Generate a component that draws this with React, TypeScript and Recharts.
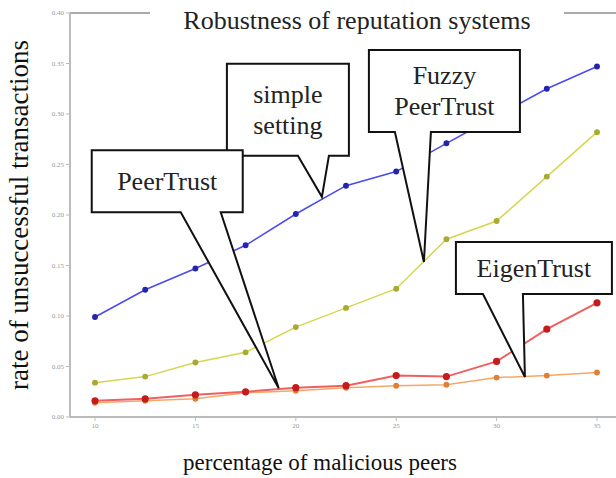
import { LineChart, Line, XAxis, YAxis, ReferenceLine, ReferenceDot } from 'recharts';

const maliciousPct = [10, 12.5, 15, 17.5, 20, 22.5, 25, 27.5, 30, 32.5, 35];
const simpleSetting = [0.099, 0.126, 0.147, 0.17, 0.201, 0.229, 0.243, 0.271, 0.298, 0.325, 0.347];
const fuzzyPeerTrust = [0.034, 0.04, 0.054, 0.064, 0.089, 0.108, 0.127, 0.176, 0.194, 0.238, 0.282];
const eigenTrust = [0.016, 0.018, 0.022, 0.025, 0.029, 0.031, 0.041, 0.04, 0.055, 0.087, 0.113];
const peerTrust = [0.014, 0.016, 0.018, 0.024, 0.026, 0.029, 0.031, 0.032, 0.039, 0.041, 0.044];

const xTicks = [10, 15, 20, 25, 30, 35];
const yTicks = [0, 0.05, 0.1, 0.15, 0.2, 0.25, 0.3, 0.35, 0.4];

// callout labels: tip point in data units, box placed relative to the tip (px)
const callouts = [
  { lines: ['simple', 'setting'], x: 21.3, y: 0.218, box: [-95, -133, 27, -41], tail: [-24, 7] },
  { lines: ['PeerTrust'], x: 19.15, y: 0.0285, box: [-187, -238, -36, -176], tail: [-98, -58] },
  { lines: ['Fuzzy', 'PeerTrust'], x: 26.38, y: 0.1535, box: [-55, -212, 96, -130], tail: [-29, 7] },
  { lines: ['EigenTrust'], x: 31.41, y: 0.0396, box: [-69, -135, 87, -83], tail: [-42, -2] },
];

const data = maliciousPct.map((x, i) => ({
  x,
  simple: simpleSetting[i],
  fuzzy: fuzzyPeerTrust[i],
  eigen: eigenTrust[i],
  peer: peerTrust[i],
}));

const serif = '"Liberation Serif", "DejaVu Serif", serif';

const Callout = ({ cx, cy, c }: any) => {
  const [l, t, r, b] = c.box;
  const [t1, t2] = c.tail;
  const d = `M${cx + l},${cy + t} H${cx + r} V${cy + b} H${cx + t2} L${cx},${cy} L${cx + t1},${cy + b} H${cx + l} Z`;
  const midX = cx + (l + r) / 2;
  const midY = cy + (t + b) / 2;
  const lh = 31;
  return (
    <g>
      <path d={d} fill="#fff" stroke="#111" strokeWidth={2} strokeLinejoin="miter" />
      {c.lines.map((s: string, i: number) => (
        <text
          key={s}
          x={midX}
          y={midY + (i - (c.lines.length - 1) / 2) * lh}
          textAnchor="middle"
          dominantBaseline="central"
          fontFamily={serif}
          fontSize={26}
          fill="#222"
        >
          {s}
        </text>
      ))}
    </g>
  );
};

export default function App() {
  return (
    <div style={{ position: 'absolute', left: 0, top: 0, width: 616, height: 478, background: '#fff' }}>
      <LineChart width={616} height={478} data={data} margin={{ top: 13, right: 0, bottom: 41, left: 0 }}>
        <XAxis
          dataKey="x"
          type="number"
          domain={[8.755, 35.946]}
          ticks={xTicks}
          allowDataOverflow
          height={20}
          axisLine={{ stroke: '#bbb', strokeWidth: 2 }}
          tickLine={{ stroke: '#bbb' }}
          tickSize={4}
          tick={{ fontSize: 7, fill: '#999', fontFamily: serif }}
        />
        <YAxis
          type="number"
          domain={[0, 0.4]}
          ticks={yTicks}
          width={70}
          axisLine={{ stroke: '#bbb', strokeWidth: 2 }}
          tickLine={{ stroke: '#bbb' }}
          tickSize={4}
          tickFormatter={(v: number) => v.toFixed(2)}
          tick={{ fontSize: 7, fill: '#999', fontFamily: serif }}
        />
        <ReferenceLine y={0.4} stroke="#aaa" strokeWidth={2} />
        <Line dataKey="simple" stroke="#4a4aee" strokeWidth={1.5} dot={{ r: 2.2, fill: '#2424b0', stroke: '#2424b0' }} isAnimationActive={false} />
        <Line dataKey="fuzzy" stroke="#d6d650" strokeWidth={1.5} dot={{ r: 2.2, fill: '#a9a935', stroke: '#a9a935' }} isAnimationActive={false} />
        <Line dataKey="peer" stroke="#f4a868" strokeWidth={1.5} dot={{ r: 2.2, fill: '#e08038', stroke: '#e08038' }} isAnimationActive={false} />
        <Line dataKey="eigen" stroke="#f06060" strokeWidth={2} dot={{ r: 2.6, fill: '#c41c1c', stroke: '#c41c1c' }} isAnimationActive={false} />
        {callouts.map((c) => (
          <ReferenceDot
            key={c.lines.join(' ')}
            x={c.x}
            y={c.y}
            r={1}
            ifOverflow="visible"
            shape={(p: any) => <Callout cx={p.cx} cy={p.cy} c={c} />}
          />
        ))}
      </LineChart>
      <div
        style={{
          position: 'absolute',
          left: 150,
          top: 4,
          width: 414,
          height: 34,
          background: '#fff',
          textAlign: 'center',
          fontFamily: serif,
          fontSize: 26,
          lineHeight: '34px',
          color: '#222',
        }}
      >
        Robustness of reputation systems
      </div>
      <div
        style={{
          position: 'absolute',
          left: 20,
          top: 449,
          width: 600,
          textAlign: 'center',
          fontFamily: serif,
          fontSize: 23,
          lineHeight: '28px',
          color: '#111',
        }}
      >
        percentage of malicious peers
      </div>
      <div
        style={{
          position: 'absolute',
          left: 19 - 200,
          top: 215 - 16,
          width: 400,
          height: 32,
          textAlign: 'center',
          fontFamily: serif,
          fontSize: 27,
          lineHeight: '32px',
          color: '#111',
          transform: 'rotate(-90deg)',
        }}
      >
        rate of unsuccessful transactions
      </div>
    </div>
  );
}
